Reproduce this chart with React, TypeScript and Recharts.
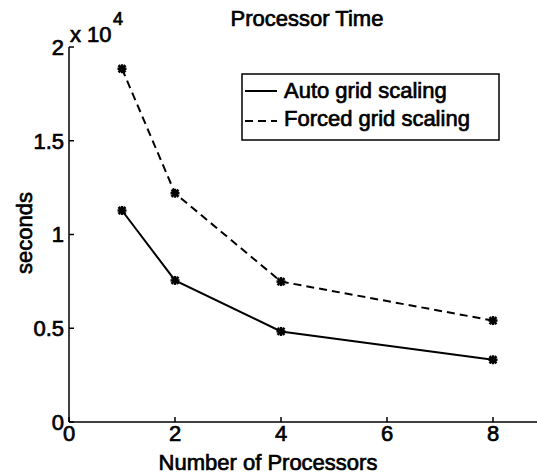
import React from "react";
import { LineChart, Line, XAxis, YAxis, Legend } from "recharts";

const processors = [1, 2, 4, 8];
const autoGridSeconds = [11280, 7550, 4830, 3320];
const forcedGridSeconds = [18840, 12200, 7490, 5410];
const xTicks = [0, 2, 4, 6, 8];
const yTicks = [0, 5000, 10000, 15000, 20000];

const FONT = "'Liberation Sans', Arial, Helvetica, sans-serif";

const data = processors.map((p, i) => ({
  procs: p,
  auto: autoGridSeconds[i],
  forced: forcedGridSeconds[i],
}));

// MATLAB-style '*' marker
function StarDot(props: any) {
  const { cx, cy } = props;
  if (cx == null || cy == null) return null;
  const r = 4.5;
  const d = 3.5;
  return (
    <g stroke="#000" strokeWidth={2.5}>
      <line x1={cx - r} y1={cy} x2={cx + r} y2={cy} />
      <line x1={cx} y1={cy - r} x2={cx} y2={cy + r} />
      <line x1={cx - d} y1={cy - d} x2={cx + d} y2={cy + d} />
      <line x1={cx - d} y1={cy + d} x2={cx + d} y2={cy - d} />
    </g>
  );
}

const textInk = { stroke: "#000", strokeWidth: 0.7 };

function LegendBox() {
  return (
    <svg width={259} height={68} style={{ display: "block" }}>
      <rect x={1} y={1} width={257} height={66} fill="#fff" stroke="#000" strokeWidth={1.5} />
      <line x1={4} y1={18} x2={36} y2={18} stroke="#000" strokeWidth={2} />
      <text x={43} y={25} fontFamily={FONT} fontSize={22} fill="#000" {...textInk}>
        Auto grid scaling
      </text>
      <line x1={4} y1={48} x2={36} y2={48} stroke="#000" strokeWidth={2} strokeDasharray="8 5" />
      <text x={43} y={53} fontFamily={FONT} fontSize={22} fill="#000" {...textInk}>
        Forced grid scaling
      </text>
    </svg>
  );
}

export default function App() {
  const tickStyle = { fontFamily: FONT, fontSize: 22, fill: "#000", ...textInk };
  return (
    <div
      style={{
        position: "relative",
        width: 537,
        height: 476,
        overflow: "hidden",
        background: "#fff",
      }}
    >
      <style>{"html,body{margin:0;padding:0;overflow:hidden;background:#fff}"}</style>
      <LineChart
        width={560}
        height={476}
        data={data}
        margin={{ top: 47, right: 14, bottom: 24, left: 0 }}
      >
        <XAxis
          dataKey="procs"
          type="number"
          domain={[0, 9]}
          ticks={xTicks}
          allowDataOverflow
          height={30}
          tick={tickStyle}
          tickSize={-5}
          tickMargin={8}
          axisLine={{ stroke: "#000", strokeWidth: 1.5 }}
          tickLine={{ stroke: "#000", strokeWidth: 1.5 }}
        />
        <YAxis
          type="number"
          domain={[0, 20000]}
          ticks={yTicks}
          width={69}
          tick={tickStyle}
          tickSize={-5}
          tickMargin={10}
          tickFormatter={(v: number) => String(v / 10000)}
          axisLine={{ stroke: "#000", strokeWidth: 1.5 }}
          tickLine={{ stroke: "#000", strokeWidth: 1.5 }}
        />
        <Legend
          layout="vertical"
          align="center"
          verticalAlign="middle"
          content={() => <LegendBox />}
          wrapperStyle={{ position: "absolute", left: 241, top: 73, width: 259, height: 68 }}
        />
        <Line
          dataKey="auto"
          name="Auto grid scaling"
          stroke="#000"
          strokeWidth={2}
          dot={<StarDot />}
          isAnimationActive={false}
        />
        <Line
          dataKey="forced"
          name="Forced grid scaling"
          stroke="#000"
          strokeWidth={2}
          strokeDasharray="8 5"
          dot={<StarDot />}
          isAnimationActive={false}
        />
      </LineChart>
      <svg
        width={537}
        height={476}
        style={{ position: "absolute", left: 0, top: 0, pointerEvents: "none" }}
        fontFamily={FONT}
        fill="#000"
        {...textInk}
      >
        <text x={307} y={26} fontSize={22} textAnchor="middle">
          Processor Time
        </text>
        <text x={70} y={42} fontSize={22}>
          x 10
        </text>
        <text x={113} y={25} fontSize={18}>
          4
        </text>
        <text x={32} y={233} fontSize={22} textAnchor="middle" transform="rotate(-90 32 233)">
          seconds
        </text>
        <text x={268} y={470} fontSize={22} textAnchor="middle">
          Number of Processors
        </text>
      </svg>
    </div>
  );
}
